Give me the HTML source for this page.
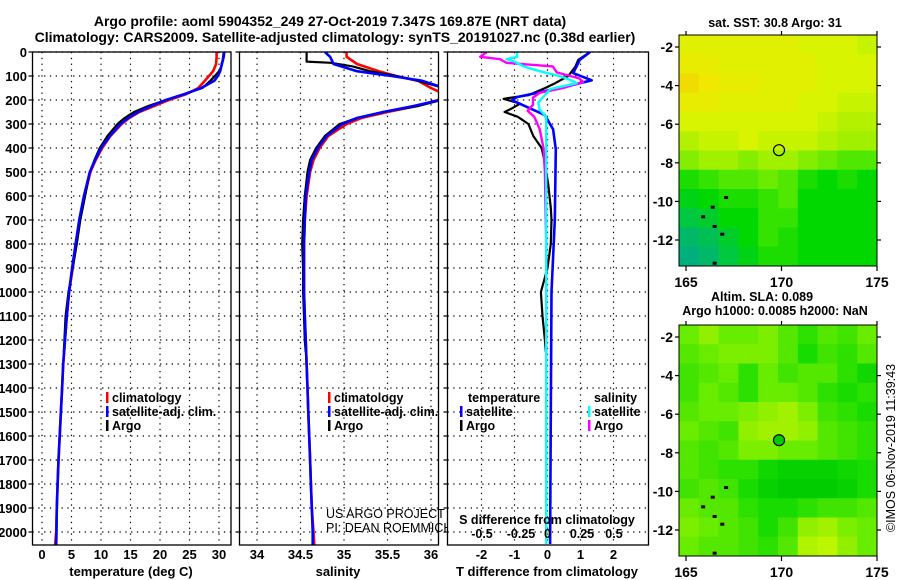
<!DOCTYPE html>
<html><head><meta charset="utf-8"><title>Argo profile</title>
<style>
html,body{margin:0;padding:0;background:#fff;}
svg{display:block;font-family:"Liberation Sans",sans-serif;}
.b{font-weight:bold;}
</style></head>
<body>
<svg id="root" width="900" height="580" viewBox="0 0 900 580" xmlns="http://www.w3.org/2000/svg">
<rect x="0" y="0" width="900" height="580" fill="#fff"/>
<text class="b" x="330" y="26" font-size="14" text-anchor="middle">Argo profile: aoml 5904352_249 27-Oct-2019 7.347S 169.87E (NRT data)</text>
<text class="b" x="335" y="42" font-size="14" text-anchor="middle">Climatology: CARS2009. Satellite-adjusted climatology: synTS_20191027.nc (0.38d earlier)</text>
<g id="g"></g>
</svg>
<script>
// ---------- data ----------
const depthClim = [0,20,50,80,100,120,150,175,200,225,250,275,300,350,400,450,500,600,700,800,900,1000,1100,1200,1300,1400,1500,1600,1700,1800,1900,2000,2060];
const tempClim = [29.6,29.6,29.5,29.0,28.3,27.6,26.5,24.5,21.5,19.0,16.5,14.8,13.5,11.6,10.2,9.1,8.2,7.2,6.4,5.8,5.2,4.6,4.2,3.9,3.6,3.4,3.2,3.0,2.8,2.65,2.5,2.4,2.2];
const tempSat = [30.9,30.8,30.5,30.2,29.8,29.2,27.0,24.2,21.0,18.5,16.3,14.6,13.3,11.5,10.0,9.0,8.1,7.1,6.3,5.7,5.1,4.6,4.2,3.9,3.6,3.4,3.2,3.0,2.8,2.65,2.5,2.45,2.4];
const depthArgo = [0,40,45,60,80,100,120,150,200,225,250,275,300,350,400,450,500,600,700,800,900,1000,1100,1200,1250];
const tempArgo = [30.8,30.6,30.5,30.4,30.0,29.3,28.5,27.2,21.0,18.0,15.6,14.0,12.8,11.1,9.8,8.9,8.1,7.3,6.5,5.9,5.2,4.5,4.0,3.8,3.7];
const salClim = [35.03,35.03,35.15,35.4,35.6,35.85,36.0,36.15,36.08,35.84,35.5,35.2,35.03,34.82,34.72,34.65,34.61,34.57,34.55,34.54,34.54,34.54,34.55,34.56,34.57,34.58,34.59,34.6,34.61,34.62,34.63,34.65,34.66];
const salSat = [34.78,34.84,34.88,35.15,35.55,35.9,36.15,36.3,36.1,35.8,35.45,35.15,34.98,34.8,34.7,34.63,34.6,34.56,34.55,34.54,34.54,34.54,34.55,34.56,34.57,34.58,34.59,34.6,34.61,34.62,34.63,34.64,34.64];
const salArgo = [34.57,34.57,34.85,35.1,35.3,35.6,35.85,36.15,36.12,35.85,35.45,35.15,34.95,34.78,34.68,34.61,34.58,34.55,34.53,34.52,34.53,34.53,34.54,34.55,34.56];
const dTSatDepth = [0,33,88,118,153,188,201,263,322,405,700,1000,1500,2050];
const dTSat = [1.29,0.98,0.78,1.34,0.28,-0.93,-1.08,-0.08,0.17,0.25,0.22,0.12,0.1,0.08];
const dTArgoDepth = [0,33,60,100,130,150,180,195,215,235,250,270,300,350,400,460,550,650,700,800,900,1000,1100,1200,1250];
const dTArgo = [1.29,0.93,0.85,0.63,0.23,-0.07,-0.58,-1.33,-0.83,-1.08,-1.3,-0.9,-0.58,-0.43,-0.18,-0.08,0.02,0.1,0.12,0.1,0.0,-0.2,-0.15,-0.08,-0.05];
const dSSatDepth = [0,20,30,40,60,80,100,120,130,155,180,210,240,270,350,500,1000,2050];
const dSSat = [-0.23,-0.23,-0.31,-0.25,-0.18,-0.06,0.09,0.19,0.22,0.02,-0.02,-0.07,-0.06,-0.01,-0.01,-0.01,-0.01,-0.01];
const dSArgoDepth = [0,20,30,45,60,85,110,125,150,170,190,220,245,270,320,400,500,800,1250];
const dSArgo = [-0.46,-0.51,-0.36,-0.31,0.04,0.07,0.24,0.27,0.12,-0.06,-0.11,-0.11,-0.15,-0.1,-0.06,-0.03,-0.02,-0.01,-0.01];
const depthTicks = [0,100,200,300,400,500,600,700,800,900,1000,1100,1200,1300,1400,1500,1600,1700,1800,1900,2000];
const tempTicks = [0,5,10,15,20,25,30];
const salTicks = [34,34.5,35,35.5,36];
const dTTicks = [-2,-1,0,1,2];
const dSTicks = [-0.5,-0.25,0,0.25,0.5];
const dSTickLabels = ['-0.5','-0.25','0','0.25','0.5'];
const lonTicks = [165,170,175];
const latTicks = [-2,-4,-6,-8,-10,-12];
const sstGrid = [
[30.9,30.9,30.9,30.9,30.9,30.9,30.8,30.8,30.8,30.7],
[31.0,31.0,30.9,30.9,30.9,30.9,30.9,30.8,30.8,30.8],
[31.2,31.1,31.0,31.0,30.9,30.9,30.9,30.8,30.8,30.8],
[31.0,31.0,30.9,30.9,30.9,30.9,30.8,30.8,30.7,30.7],
[30.8,30.8,30.8,30.8,30.8,30.8,30.8,30.7,30.6,30.6],
[30.6,30.7,30.7,30.8,30.7,30.7,30.7,30.6,30.5,30.5],
[30.4,30.5,30.5,30.4,30.5,30.5,30.4,30.3,30.2,30.2],
[30.0,30.1,30.2,30.2,30.3,30.2,30.0,29.9,30.0,29.9],
[29.8,29.9,30.0,30.0,30.1,30.2,29.9,29.9,29.9,29.9],
[29.6,29.7,29.9,29.9,30.1,30.1,29.9,29.9,29.9,29.9],
[29.4,29.5,29.7,29.9,30.1,30.0,29.9,29.9,29.9,29.9],
[29.3,29.4,29.6,29.8,30.0,30.0,29.9,29.9,29.9,29.9]];
const slaGrid = [
[0.06,0.08,0.06,0.06,0.07,0.05,0.03,0.05,0.04,0.06],
[0.05,0.06,0.07,0.07,0.07,0.05,0.02,0.04,0.03,0.05],
[0.04,0.05,0.06,0.03,0.06,0.04,0.05,0.05,0.03,0.01],
[0.04,0.06,0.05,0.03,0.06,0.06,0.05,0.03,0.02,0.03],
[0.05,0.06,0.06,0.07,0.08,0.09,0.07,0.04,0.03,0.02],
[0.06,0.05,0.04,0.08,0.09,0.09,0.08,0.05,0.04,0.03],
[0.05,0.04,0.05,0.07,0.07,0.06,0.06,0.05,0.04,0.03],
[0.05,0.04,0.03,0.03,0.01,0.0,0.0,0.0,0.01,0.02],
[0.04,0.05,0.04,0.02,0.0,-0.01,-0.01,-0.01,0.0,0.02],
[0.06,0.05,0.05,0.03,0.02,0.02,0.03,0.04,0.04,0.05],
[0.07,0.06,0.05,0.04,0.02,0.04,0.08,0.09,0.07,0.06],
[0.06,0.05,0.05,0.04,0.03,0.05,0.1,0.11,0.08,0.06]];
const argoLon = 169.87, argoLat = -7.347;

// ---------- helpers ----------
const NS = "http://www.w3.org/2000/svg";
const G = document.getElementById('g');
function el(tag, attrs, parent, name, inter) {
  const e = document.createElementNS(NS, tag);
  for (const k in attrs) e.setAttribute(k, attrs[k]);
  
  
  (parent || G).appendChild(e);
  return e;
}
function txt(s, x, y, opts, name, parent) {
  const t = el('text', Object.assign({x: x, y: y, 'font-size': 13, 'font-weight': 'bold'}, opts || {}), parent, name);
  t.textContent = s;
  return t;
}
const Y0 = 52, KY = 0.24, YB = 545;
const yD = d => Y0 + d * KY;
function lin(d0, d1, p0, p1) { return v => p0 + (v - d0) * (p1 - p0) / (d1 - d0); }

let clipN = 0;
function panel(x0, x1, xs, xTicks, xFmt, name) {
  const g = el('g', {}, G, name);
  const id = 'clip' + (clipN++);
  const cp = el('clipPath', {id: id}, g, name + '-clip');
  el('rect', {x: x0, y: Y0, width: x1 - x0, height: YB - Y0}, cp, name + '-clip-rect');
  el('rect', {x: x0, y: Y0, width: x1 - x0, height: YB - Y0, fill: '#fff'}, g, name + '-bg');
  const grid = el('g', {stroke: '#000', 'stroke-width': 1.2, 'stroke-dasharray': '1.3,4.5'}, g, name + '-grid');
  depthTicks.forEach(d => el('line', {x1: x0, x2: x1, y1: yD(d), y2: yD(d)}, grid, 'grid-h-' + d));
  xTicks.forEach(v => el('line', {x1: xs(v), x2: xs(v), y1: Y0, y2: YB}, grid, 'grid-v-' + v));
  const plot = el('g', {'clip-path': 'url(#' + id + ')'}, g, name + '-series');
  return {g: g, plot: plot, x0: x0, x1: x1};
}
function frame(p, xs, xTicks, name) {
  el('rect', {x: p.x0, y: Y0, width: p.x1 - p.x0, height: YB - Y0, fill: 'none', stroke: '#000', 'stroke-width': 1.3}, p.g, name + '-frame');
  depthTicks.forEach(d => el('line', {x1: p.x0 - 4, x2: p.x0, y1: yD(d), y2: yD(d), stroke: '#000', 'stroke-width': 1.2}, p.g, 'y-tick'));
}
function line(p, depths, vals, xs, color, w, name) {
  const pts = depths.map((d, i) => xs(vals[i]).toFixed(1) + ',' + yD(d).toFixed(1)).join(' ');
  el('polyline', {points: pts, fill: 'none', stroke: color, 'stroke-width': w, 'stroke-linejoin': 'round'}, p.plot, name);
}
function legend(items, x, y, name, parent) {
  items.forEach((it, i) => {
    el('rect', {x: x, y: y + i * 14 - 10, width: 2.5, height: 11, fill: it[1]}, parent || G, name + '-marker-' + i);
    txt(it[0], x + 6, y + i * 14, {'font-size': 12.5}, name + '-label-' + i, parent);
  });
}

// depth axis labels
depthTicks.forEach(d => txt(String(d), 27, yD(d) + 5, {'text-anchor': 'end', 'font-size': 13}, 'depth-tick-label'));

// ---------- panel 1 temperature ----------
const xT = lin(0, 30, 42, 219);
const p1 = panel(32.5, 231, xT, tempTicks, null, 'temperature-panel');
line(p1, depthClim, tempClim, xT, '#ff0000', 2.6, 'temp-climatology-line');
line(p1, depthArgo, tempArgo, xT, '#000', 2.2, 'temp-argo-line');
line(p1, depthClim, tempSat, xT, '#0000ff', 2.6, 'temp-satellite-line');
frame(p1, xT, tempTicks, 'temperature-panel');
tempTicks.forEach(v => txt(String(v), xT(v), 559, {'text-anchor': 'middle'}, 'temp-tick-label'));
txt('temperature (deg C)', 131, 576, {'text-anchor': 'middle'}, 'temp-axis-title');
legend([['climatology', '#ff0000'], ['satellite-adj. clim.', '#0000ff'], ['Argo', '#000']], 106, 402, 'temp-legend');

// ---------- panel 2 salinity ----------
const xS = lin(34, 36, 257, 431);
const p2 = panel(239.5, 438.5, xS, salTicks, null, 'salinity-panel');
line(p2, depthClim, salClim, xS, '#ff0000', 2.6, 'sal-climatology-line');
line(p2, depthArgo, salArgo, xS, '#000', 2.2, 'sal-argo-line');
line(p2, depthClim, salSat, xS, '#0000ff', 2.6, 'sal-satellite-line');
frame(p2, xS, salTicks, 'salinity-panel');
salTicks.forEach(v => txt(String(v), xS(v), 559, {'text-anchor': 'middle'}, 'sal-tick-label'));
txt('salinity', 338, 576, {'text-anchor': 'middle'}, 'sal-axis-title');
legend([['climatology', '#ff0000'], ['satellite-adj. clim.', '#0000ff'], ['Argo', '#000']], 328, 402, 'sal-legend');
txt('US ARGO PROJECT', 326, 518, {'font-weight': 'normal', 'font-size': 12.5}, 'credit-project');
txt('PI: DEAN ROEMMICH', 326, 532, {'font-weight': 'normal', 'font-size': 12.5}, 'credit-pi');

// ---------- panel 3 differences ----------
const xDT = lin(0, 2, 547.5, 613.5);
const xDS = v => xDT(v * 4);
const p3 = panel(447.5, 648.5, xDT, dTTicks, null, 'difference-panel');
line(p3, dTArgoDepth, dTArgo, xDT, '#000', 2.2, 'dT-argo-line');
line(p3, dTSatDepth, dTSat, xDT, '#0000ff', 2.6, 'dT-satellite-line');
line(p3, dSArgoDepth, dSArgo, xDS, '#ff00ff', 2.4, 'dS-argo-line');
line(p3, dSSatDepth, dSSat, xDS, '#00ffff', 2.4, 'dS-satellite-line');
frame(p3, xDT, dTTicks, 'difference-panel');
dTTicks.forEach(v => txt(String(v), xDT(v), 559, {'text-anchor': 'middle'}, 'dT-tick-label'));
txt('T difference from climatology', 547, 576, {'text-anchor': 'middle'}, 'dT-axis-title');
txt('S difference from climatology', 547, 524, {'text-anchor': 'middle', 'font-size': 12.5}, 'dS-axis-title');
const dSLabelX = [482, 521, 547.5, 582, 614];
dSTicks.forEach((v, i) => txt(dSTickLabels[i], dSLabelX[i], 538, {'text-anchor': 'middle', 'font-size': 12.5}, 'dS-tick-label'));
txt('temperature', 468, 402, {'font-size': 12.5}, 'diff-legend-temp-heading');
legend([['satellite', '#0000ff'], ['Argo', '#000']], 460, 416, 'diff-legend-temp');
txt('salinity', 594, 402, {'font-size': 12.5}, 'diff-legend-sal-heading');
legend([['satellite', '#00ffff'], ['Argo', '#ff00ff']], 588, 416, 'diff-legend-sal');

// ---------- maps ----------
function rgb(c) { return 'rgb(' + c.join(',') + ')'; }
function ramp(stops, v) {
  if (v <= stops[0][0]) return rgb(stops[0][1]);
  for (let i = 1; i < stops.length; i++) {
    if (v <= stops[i][0]) {
      const a = stops[i - 1], b = stops[i], t = (v - a[0]) / (b[0] - a[0]);
      return rgb(a[1].map((c, k) => Math.round(c + (b[1][k] - c) * t)));
    }
  }
  return rgb(stops[stops.length - 1][1]);
}
const sstStops = [[29.2,[0,168,144]],[29.6,[0,200,64]],[29.9,[0,216,0]],[30.2,[80,232,0]],[30.5,[160,240,0]],[30.8,[216,244,0]],[31.1,[240,232,0]],[31.3,[240,208,0]]];
const slaStops = [[-0.01,[0,204,0]],[0.02,[24,220,0]],[0.04,[64,228,0]],[0.06,[104,236,0]],[0.08,[144,240,0]],[0.1,[176,244,0]],[0.12,[200,248,0]]];
function map(top, grid, stops, name, dotFill) {
  const L = 679, R = 877, B = top + 231;
  const xl = lin(165, 175, 686, 877);
  const yl = lin(-2, -12, top + 12, top + 205);
  const g = el('g', {}, G, name);
  const rows = grid.length, cols = grid[0].length;
  const cw = (R - L) / cols, ch = (B - top) / rows;
  grid.forEach((row, r) => row.forEach((v, c) => {
    el('rect', {x: (L + c * cw).toFixed(2), y: (top + r * ch).toFixed(2), width: (cw + 0.5).toFixed(2), height: (ch + 0.5).toFixed(2), fill: ramp(stops, v)}, g, name + '-cell');
  }));
  el('rect', {x: L, y: top, width: R - L, height: B - top, fill: 'none', stroke: '#000', 'stroke-width': 1}, g, name + '-frame');
  lonTicks.forEach(v => {
    el('line', {x1: xl(v), x2: xl(v), y1: B, y2: B + 5, stroke: '#000', 'stroke-width': 1.2}, g, 'lon-tick');
    el('line', {x1: xl(v), x2: xl(v), y1: top - 4, y2: top, stroke: '#000', 'stroke-width': 1.2}, g, 'lon-tick-top');
    txt(String(v), xl(v), B + 21, {'text-anchor': 'middle', 'font-size': 14}, name + '-lon-label');
  });
  latTicks.forEach(v => {
    el('line', {x1: L - 4, x2: L, y1: yl(v), y2: yl(v), stroke: '#000', 'stroke-width': 1.2}, g, 'lat-tick');
    el('line', {x1: R, x2: R + 4, y1: yl(v), y2: yl(v), stroke: '#000', 'stroke-width': 1.2}, g, 'lat-tick-right');
    txt(String(v), 673, yl(v) + 5, {'text-anchor': 'end', 'font-size': 14}, name + '-lat-label');
  });
  el('circle', {cx: xl(argoLon), cy: yl(argoLat), r: 5.5, fill: dotFill, stroke: '#000', 'stroke-width': 1.2}, g, name + '-argo-location');
  [[165.9,-10.8],[166.4,-10.3],[166.5,-11.3],[166.9,-11.7],[167.1,-9.8],[166.5,-13.2]].forEach(p => {
    el('rect', {x: xl(p[0]) - 2, y: yl(p[1]) - 1.5, width: 4, height: 3, fill: '#000'}, g, name + '-island');
  });
}
map(35, sstGrid, sstStops, 'sst-map', 'none');
map(325, slaGrid, slaStops, 'sla-map', '#00cc00');
txt('sat. SST: 30.8 Argo: 31', 775, 27, {'text-anchor': 'middle', 'font-size': 12.5}, 'sst-map-title');
txt('Altim. SLA: 0.089', 762, 301, {'text-anchor': 'middle', 'font-size': 12.5}, 'sla-map-title');
txt('Argo h1000: 0.0085 h2000: NaN', 775, 315, {'text-anchor': 'middle', 'font-size': 12.5}, 'sla-map-subtitle');
txt('\u00A9IMOS 06-Nov-2019 11:39:43', 0, 0, {'text-anchor': 'middle', 'font-size': 12.5, 'font-weight': 'normal', transform: 'translate(895,448) rotate(-90)'}, 'imos-credit');
</script>
</body></html>
